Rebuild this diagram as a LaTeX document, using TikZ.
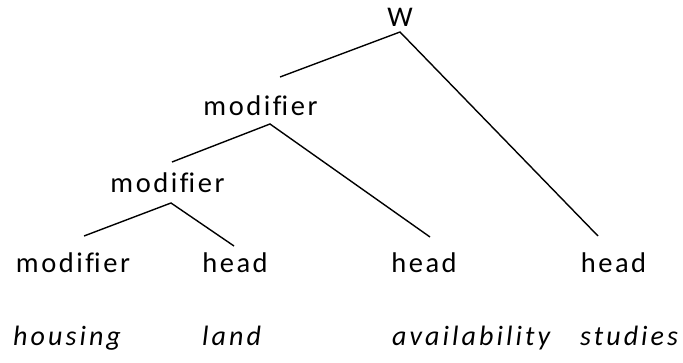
\documentclass[tikz,border=0pt]{standalone}
\usepackage{fontspec}
\setmainfont{Carlito}[LetterSpace=9,Ligatures=NoCommon]
\newfontfamily\wordfont{Carlito}[LetterSpace=11,Ligatures=NoCommon]
\newcommand{\modtxt}{modif\kern0pt ier}
\begin{document}
\begin{tikzpicture}[x=1pt,y=-1pt,
  lab/.style={inner sep=0pt,font=\fontsize{28.5}{30}\selectfont},
  word/.style={inner sep=0pt,font=\wordfont\fontsize{28}{30}\selectfont\itshape},
  edge/.style={line width=1.4pt}]
\useasboundingbox (0,0) rectangle (683,363);
\node[lab] (w) at (400,17) {W};
\node[lab] (m1) at (260.5,106) {\modtxt};
\node[lab] (m2) at (167.5,183) {\modtxt};
\node[lab] (m3) at (73,263) {\modtxt};
\node[lab] (h1) at (235,263) {head};
\node[lab] (h2) at (424,263) {head};
\node[lab] (h3) at (613.5,263) {head};
\node[word,anchor=base west] (t1) at (13,346) {housing};
\node[word,anchor=base west] (t2) at (202,346) {land};
\node[word,anchor=base west] (t3) at (392,346) {availability};
\node[word,anchor=base west] (t4) at (580,346) {studies};
\coordinate (wa) at (400,32);
\coordinate (wl) at (280,77);
\coordinate (wr) at (598,236);
\coordinate (m1a) at (270,124);
\coordinate (m1l) at (172,162);
\coordinate (m1r) at (430,237);
\coordinate (m2a) at (171,203);
\coordinate (m2l) at (84,236);
\coordinate (m2r) at (234,246);
\draw[edge] (wl) -- (wa) -- (wr);
\draw[edge] (m1l) -- (m1a) -- (m1r);
\draw[edge] (m2l) -- (m2a) -- (m2r);
\end{tikzpicture}
\end{document}
